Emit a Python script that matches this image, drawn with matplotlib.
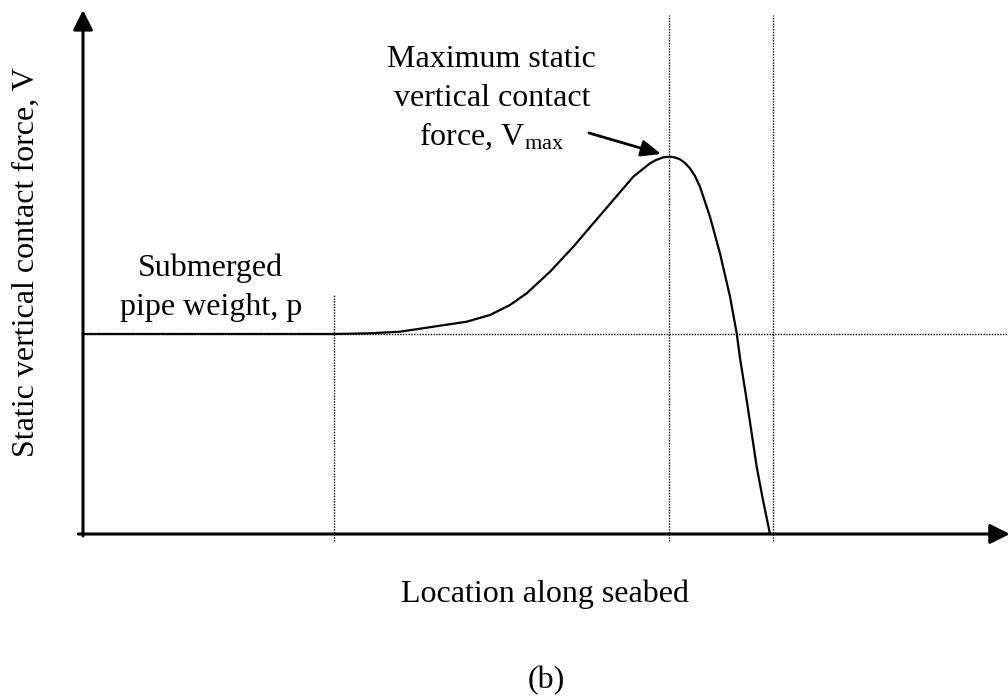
import matplotlib
matplotlib.use("Agg")
from matplotlib import pyplot as plt

plt.rcParams['font.family'] = ['Liberation Serif', 'DejaVu Serif']
plt.rcParams['mathtext.fontset'] = 'custom'
plt.rcParams['mathtext.rm'] = 'Liberation Serif'
plt.rcParams['mathtext.it'] = 'Liberation Serif:italic'

# curve (p = 1)
location = [0.0, 1.265, 2.703, 3.103, 3.427, 3.787, 4.148, 4.400, 4.616, 4.797,
            5.049, 5.301, 5.517, 5.733, 5.949, 6.130, 6.195, 6.274, 6.346, 6.400,
            6.454, 6.508, 6.562, 6.616, 6.670, 6.778, 6.886, 6.995, 7.067, 7.103,
            7.175, 7.283, 7.351, 7.427]
force = [1.0, 1.0, 1.0, 1.0035, 1.0115, 1.0365, 1.0615, 1.095, 1.145, 1.2035,
         1.3115, 1.4365, 1.5535, 1.67, 1.7865, 1.8535, 1.87, 1.8835, 1.8865, 1.8825,
         1.8735, 1.855, 1.8285, 1.79, 1.7365, 1.5865, 1.4035, 1.1865, 1.0035, 0.8785,
         0.67, 0.3365, 0.17, 0.0]

p_level = 1.0
guide_x = [2.713, 6.335, 7.46]
guide_top = [1.195, 2.595, 2.595]
x_max = 10.0
y_max = 2.62
fs = 23

fig = plt.figure(figsize=(10.08, 6.99), dpi=100)
ax = fig.add_axes([83 / 1008, 165 / 699, 925 / 1008, 524 / 699])
ax.set_xlim(0, x_max)
ax.set_ylim(0, y_max)
ax.axis('off')

dot = dict(color='black', lw=1.0, linestyle=(0, (1, 1)), clip_on=False)
ax.plot([0, x_max], [p_level, p_level], **dot)
for gx, gt in zip(guide_x, guide_top):
    ax.plot([gx, gx], [-0.035, gt], **dot)

ax.plot(location, force, color='black', lw=1.6, clip_on=False,
        solid_joinstyle='round')

# axes with arrow heads
head = dict(arrowstyle='-|>,head_length=0.6,head_width=0.3', mutation_scale=20,
            lw=2.2, color='black', shrinkA=0, shrinkB=0)
ax.annotate('', xy=(x_max + 0.02, 0), xytext=(-0.05, 0), arrowprops=head,
            annotation_clip=False)
ax.annotate('', xy=(0, y_max), xytext=(0, -0.01), arrowprops=head,
            annotation_clip=False)

ax.text(1.38, 1.29, 'Submerged', fontsize=fs, ha='center', va='baseline')
ax.text(1.38, 1.095, 'pipe weight, p', fontsize=fs, ha='center', va='baseline')

ax.text(4.42, 2.335, 'Maximum static', fontsize=fs, ha='center', va='baseline')
ax.text(4.42, 2.14, 'vertical contact', fontsize=fs, ha='center', va='baseline')
ax.text(4.42, 1.945, r'force, $\mathregular{V_{max}}$', fontsize=fs,
        ha='center', va='baseline')

ax.annotate('', xy=(6.25, 1.90), xytext=(5.47, 2.005),
            arrowprops=dict(arrowstyle='-|>,head_length=0.6,head_width=0.25',
                            mutation_scale=20, lw=2.0, color='black',
                            shrinkA=0, shrinkB=0))

fig.text(26 / 1008, 1 - 262 / 699, 'Static vertical contact force, V',
         fontsize=fs, rotation=90, ha='center', va='center')
fig.text(545 / 1008, 1 - 602 / 699, 'Location along seabed', fontsize=fs,
         ha='center', va='baseline')
fig.text(546 / 1008, 1 - 688 / 699, '(b)', fontsize=fs, ha='center',
         va='baseline')

fig.savefig('out.png', dpi=100)
